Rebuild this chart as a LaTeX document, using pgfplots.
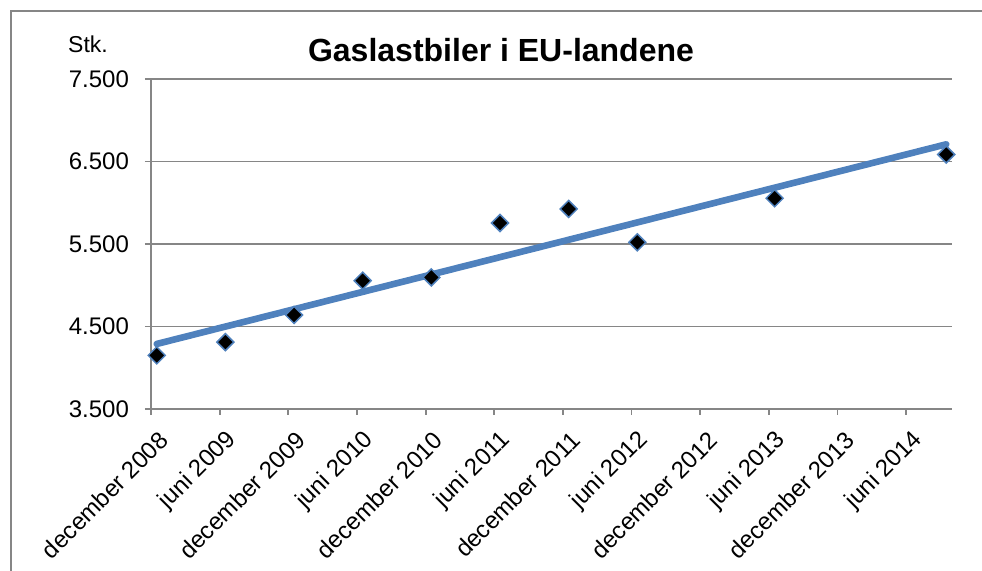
\documentclass[border=0pt]{standalone}
\usepackage{fontspec}
\setmainfont{Liberation Sans}
\usepackage{pgfplots}
\usepackage{pgfplotstable}
\pgfplotsset{compat=1.18}
\definecolor{gridgray}{HTML}{868686}
\definecolor{trendblue}{HTML}{4F81BD}
\pgfplotstableread{
x y
0.5 4150
6.5 4310
12.5 4640
18.5 5055
24.5 5095
30.5 5755
36.5 5925
42.5 5520
54.5 6055
69.5 6585
}\datatable
\begin{document}
\begin{tikzpicture}
\useasboundingbox (0,0) rectangle (491pt,285.5pt);
\draw[gridgray, line width=0.9pt] (5.5pt,-20pt) -- (5.5pt,280pt) -- (520pt,280pt);
\node[font=\fontsize{16}{19}\selectfont\bfseries] at (250.5pt,260.5pt) {Gaslastbiler i EU-landene};
\node[font=\fontsize{11.5}{14}\selectfont] at (44pt,263.5pt) {Stk.};
\begin{axis}[
  at={(75.5pt,81pt)}, anchor=south west,
  scale only axis, width=400.5pt, height=165pt,
  xmin=0, xmax=70, ymin=3500, ymax=7500,
  axis x line*=bottom, axis y line*=left,
  axis line style={gridgray, line width=0.9pt},
  tick style={gridgray, line width=0.9pt},
  tick align=outside, major tick length=3pt,
  ytick={3500,4500,5500,6500,7500},
  xtick={0,6,...,66},
  xticklabels={december 2008,juni 2009,december 2009,juni 2010,december 2010,juni 2011,december 2011,juni 2012,december 2012,juni 2013,december 2013,juni 2014},
  x tick label style={rotate=45, anchor=east, font=\fontsize{12}{14}\selectfont, xshift=0.5pt, yshift=-12pt},
  y tick label style={font=\fontsize{12}{14}\selectfont, xshift=-4.5pt},
  ymajorgrids, grid style={gridgray, line width=0.9pt},
  /pgf/number format/.cd, 1000 sep={.}, fixed, assume math mode=true,
  clip=false,
]
\addplot[only marks, mark=square*, mark size=3pt,
  mark options={rotate=45, fill=black, draw=trendblue, line width=0.75pt}]
  table[x=x, y=y] {\datatable};
\addplot[trendblue, line width=3.3pt, line cap=round, no marks]
  table[x=x, y={create col/linear regression={y=y}}] {\datatable};
\end{axis}
\end{tikzpicture}
\end{document}
